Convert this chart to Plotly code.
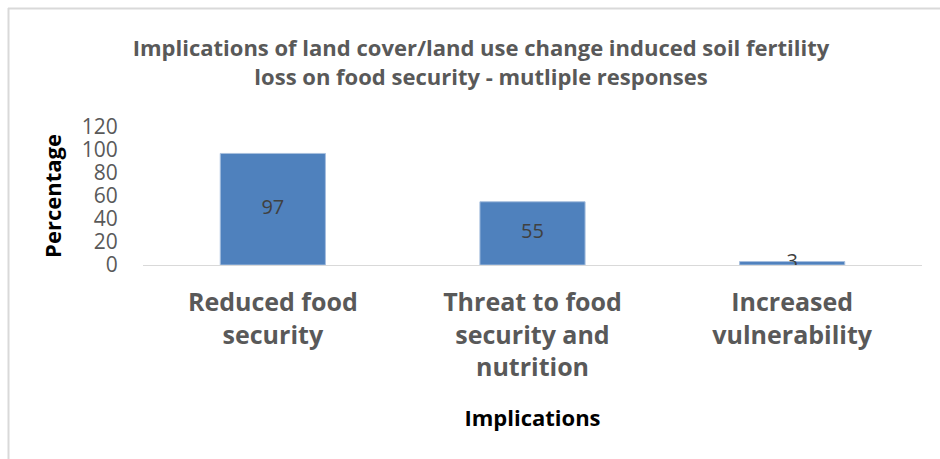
import plotly.graph_objects as go

# Survey results: share of respondents citing each implication
categories = ["Reduced food<br>security", "Threat to food<br>security and<br>nutrition", "Increased<br>vulnerability"]
percentages = [97, 55, 3]
y_ticks = [0, 20, 40, 60, 80, 100, 120]

W, H = 940, 459
L, R, T, B = 143, 18, 127, 194
plot_w = W - L - R
plot_h = H - T - B

fig = go.Figure()
fig.add_trace(go.Bar(
    x=categories, y=percentages,
    marker=dict(color="#4F81BD", line=dict(color="#A7BFDE", width=1)),
    width=0.405, hoverinfo="skip",
))
# value labels centred on each bar
fig.add_trace(go.Scatter(
    x=categories, y=[v / 2 for v in percentages],
    text=[str(v) for v in percentages], mode="text",
    textfont=dict(family="Open Sans", size=20, color="#404040"),
    hoverinfo="skip",
))

def px_x(p):
    return (p - L) / plot_w

def px_y(p):
    return (H - B - p) / plot_h

# outer chart frame (top and left edges visible)
fig.add_shape(type="line", xref="paper", yref="paper",
              x0=px_x(8), x1=px_x(960), y0=px_y(8.5), y1=px_y(8.5),
              line=dict(color="#D9D9D9", width=2))
fig.add_shape(type="line", xref="paper", yref="paper",
              x0=px_x(8.5), x1=px_x(8.5), y0=px_y(8), y1=px_y(470),
              line=dict(color="#D9D9D9", width=2))

fig.update_layout(
    width=W, height=H,
    margin=dict(l=L, r=R, t=T, b=B),
    paper_bgcolor="white", plot_bgcolor="white",
    showlegend=False,
    font=dict(family="Open Sans", color="#595959"),
    title=dict(
        text="<b>Implications of land cover/land use change induced soil fertility<br>loss on food security - mutliple responses</b>",
        x=481 / W, xref="container", xanchor="center", y=1 - 56 / H, yanchor="middle",
        font=dict(family="Open Sans", size=22, color="#595959"),
    ),
    xaxis=dict(
        showgrid=False, showline=True, linecolor="#D9D9D9", linewidth=1,
        ticks="outside", ticklen=15, tickcolor="rgba(0,0,0,0)",
        tickfont=dict(size=25, color="#595959", family="Open Sans", weight="bold"),
        title=dict(text="<b>Implications</b>", font=dict(size=22, color="#000000"), standoff=28),
        fixedrange=True,
    ),
    yaxis=dict(
        range=[0, 120], tickvals=y_ticks, showgrid=False, zeroline=False,
        showline=False, ticks="outside", ticklen=20, tickcolor="rgba(0,0,0,0)",
        tickfont=dict(size=21, color="#595959"),
        title=dict(text="<b>Percentage</b>", font=dict(size=22, color="#000000"), standoff=14),
        fixedrange=True,
    ),
)

fig.write_html("out.html")
